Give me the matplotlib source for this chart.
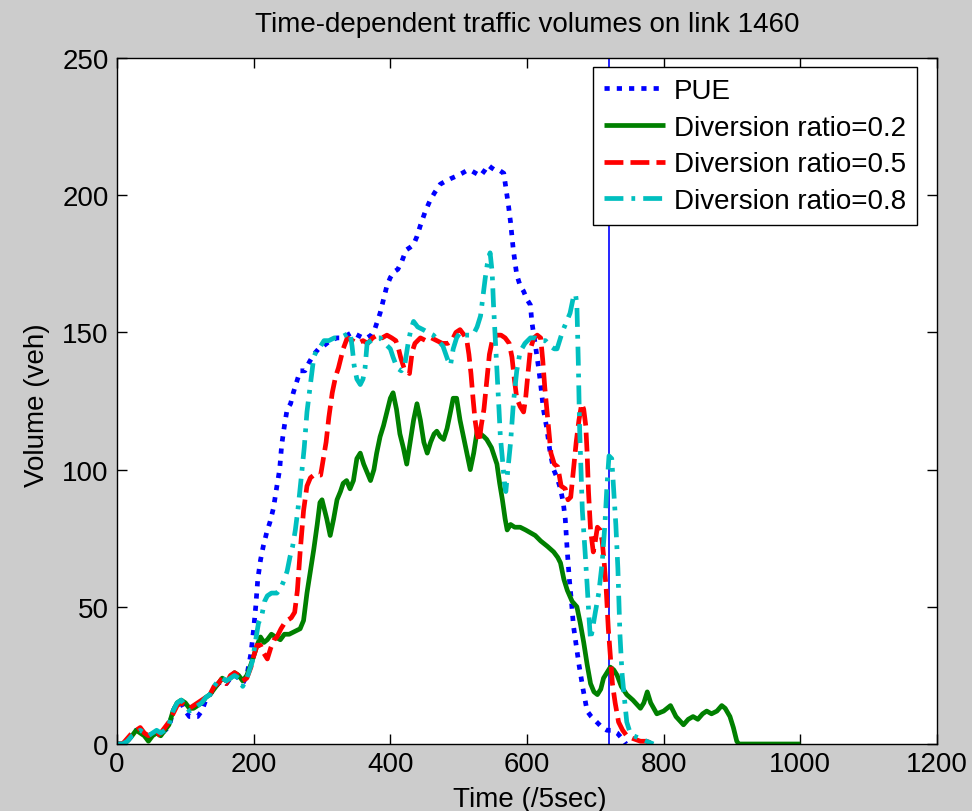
import matplotlib
matplotlib.use('Agg')
import matplotlib.pyplot as plt

# ---------------- data ----------------
pue_points = [(0,0),(8,0),(15,1),(22,3),(28,5),(34,5),(40,3),(46,2),(52,4),(58,4),(64,3),(70,5),(76,6),(82,12),(88,15),(94,15),(100,12),(106,10),(112,10),(118,10),(124,12),(130,16),(136,18),(142,20),(148,22),(154,23),(160,22),(166,24),(172,25),(178,24),(184,22),(190,25),(196,33),(200,42),(203,50),(206,60),(210,67),(214,72),(219,77),(224,81),(229,86),(234,94),(238,100),(241,109),(245,116),(249,122),(254,124),(258,128),(263,132),(268,136),(275,136),(281,139),(288,142),(295,144),(302,145),(312,147),(322,148),(330,148),(337,149),(344,150),(352,149),(360,148),(366,148),(372,149),(377,151),(381,154),(385,157),(390,162),(395,167),(400,170),(405,172),(411,173),(417,176),(423,180),(429,181),(434,182),(439,185),(444,189),(451,194),(458,198),(465,201),(473,204),(480,205),(488,206),(497,207),(505,208),(512,209),(518,209),(525,208),(532,207),(538,209),(543,211),(548,210),(554,209),(560,209),(566,208),(570,201),(573,196),(576,190),(580,180),(585,171),(590,167),(595,165),(600,162),(605,160),(607,154),(610,149),(613,144),(617,137),(620,131),(624,122),(629,115),(634,106),(639,100),(644,97),(649,93),(653,88),(656,82),(659,70),(662,60),(665,52),(668,43),(672,36),(676,29),(682,20),(688,12),(694,10),(702,8),(710,6),(717,5),(725,5),(732,4),(739,2),(745,0)]

ratio02_points = [(0,0),(8,0),(15,1),(22,3),(28,5),(34,4),(40,3),(46,1),(52,3),(58,4),(64,3),(70,5),(76,7),(82,12),(88,15),(94,16),(100,15),(106,13),(112,13),(118,14),(124,15),(130,17),(136,18),(142,20),(148,22),(154,24),(160,23),(166,24),(172,26),(178,25),(184,23),(190,25),(196,29),(200,32),(205,36),(210,39),(215,37),(220,38),(226,40),(232,39),(239,38),(245,40),(252,40),(260,41),(268,42),(273,45),(278,55),(283,63),(288,71),(293,80),(297,88),(300,89),(303,86),(307,82),(312,76),(317,82),(322,89),(327,92),(331,95),(336,96),(341,93),(346,96),(351,104),(356,106),(361,102),(366,99),(371,96),(376,100),(380,106),(385,112),(390,116),(395,121),(400,126),(404,128),(409,122),(414,113),(419,108),(424,102),(429,110),(434,118),(439,124),(444,118),(449,110),(454,106),(459,110),(464,113),(468,114),(473,112),(478,111),(483,115),(488,121),(492,126),(497,126),(502,118),(507,112),(512,106),(517,100),(522,106),(527,114),(532,113),(537,112),(541,111),(548,108),(556,102),(560,95),(564,89),(568,82),(571,78),(576,80),(582,79),(590,79),(598,78),(605,77),(612,76),(620,74),(630,72),(639,70),(645,68),(649,66),(654,60),(659,56),(666,52),(673,50),(678,44),(683,37),(688,29),(693,22),(698,19),(703,18),(708,20),(712,24),(717,26),(722,28),(727,27),(732,25),(738,21),(746,18),(755,16),(766,13),(771,15),(776,19),(781,15),(790,11),(800,12),(810,14),(818,10),(829,7),(836,9),(843,10),(850,9),(857,11),(863,12),(870,11),(878,12),(885,14),(890,13),(897,10),(902,6),(907,1),(910,0),(1000,0)]

ratio05_points = [(0,0),(8,0),(15,2),(22,4),(28,5),(34,6),(40,4),(46,3),(52,4),(58,3),(64,4),(70,6),(76,8),(82,11),(88,14),(94,15),(100,14),(106,13),(112,14),(118,15),(124,16),(130,17),(136,18),(142,21),(148,22),(154,24),(160,22),(166,25),(172,26),(178,25),(184,23),(190,24),(196,28),(200,32),(205,36),(210,36),(215,33),(220,31),(225,35),(230,38),(234,39),(240,42),(245,44),(249,45),(255,46),(260,48),(264,56),(268,70),(273,85),(278,94),(283,97),(288,98),(293,98),(298,98),(302,104),(306,110),(310,119),(315,128),(320,134),(324,137),(331,144),(337,148),(345,147),(352,146),(360,147),(367,146),(374,148),(381,149),(388,148),(395,149),(402,148),(408,147),(412,144),(415,141),(420,137),(424,136),(428,135),(432,143),(436,146),(444,148),(452,147),(460,148),(468,147),(476,146),(484,146),(490,147),(496,150),(502,151),(508,149),(512,147),(515,142),(518,135),(521,126),(524,118),(527,113),(530,110),(533,116),(537,122),(541,132),(545,142),(550,148),(556,149),(562,149),(568,148),(574,146),(578,141),(581,134),(585,126),(590,123),(595,121),(598,126),(601,134),(605,144),(610,148),(615,149),(620,148),(623,140),(626,130),(629,122),(632,114),(635,106),(640,102),(645,101),(650,94),(656,93),(660,89),(664,90),(668,100),(672,110),(676,118),(680,124),(683,122),(686,116),(688,106),(690,92),(693,78),(697,70),(700,74),(703,79),(707,78),(710,74),(713,66),(716,56),(719,42),(722,32),(725,22),(729,15),(734,8),(740,5),(746,3),(755,2),(766,1),(775,1),(785,0)]

ratio08_points = [(0,0),(8,0),(15,1),(22,3),(28,4),(34,5),(40,4),(46,3),(52,4),(58,5),(64,4),(70,5),(76,7),(82,12),(88,15),(94,16),(100,14),(106,12),(112,13),(118,14),(124,15),(130,17),(136,18),(142,21),(148,23),(154,24),(160,23),(166,24),(172,25),(178,24),(184,21),(190,24),(198,30),(203,38),(207,44),(212,47),(216,52),(220,54),(226,55),(234,55),(240,57),(245,60),(249,63),(253,68),(257,72),(261,78),(265,86),(270,98),(274,108),(278,121),(283,131),(288,141),(293,144),(298,145),(303,147),(310,147),(318,148),(326,148),(334,149),(341,150),(344,145),(347,138),(351,133),(356,131),(360,133),(363,137),(366,146),(372,147),(379,148),(385,148),(392,146),(400,144),(404,141),(410,137),(416,136),(421,138),(426,146),(430,151),(434,154),(440,152),(448,151),(455,150),(463,149),(470,147),(477,145),(484,140),(488,138),(492,144),(497,148),(502,150),(507,149),(514,149),(521,149),(527,152),(532,156),(536,164),(539,170),(542,175),(546,179),(549,172),(551,160),(554,146),(556,136),(559,122),(561,112),(564,104),(567,95),(569,92),(572,100),(576,110),(580,124),(585,136),(590,143),(597,146),(605,148),(612,148),(620,147),(627,147),(634,145),(640,144),(644,144),(649,148),(653,151),(658,154),(663,157),(668,163),(671,164),(673,160),(675,140),(677,115),(679,100),(681,85),(685,70),(688,58),(691,45),(693,38),(696,42),(700,48),(705,55),(710,66),(714,80),(717,94),(720,105),(724,104),(727,92),(730,80),(733,64),(736,40),(739,26),(742,18),(746,8),(751,4),(756,3),(765,2),(775,1),(785,0)]

series_labels = ['PUE', 'Diversion ratio=0.2', 'Diversion ratio=0.5', 'Diversion ratio=0.8']
marker_time = 720
x_ticks = [0, 200, 400, 600, 800, 1000, 1200]
y_ticks = [0, 50, 100, 150, 200, 250]
title_text = 'Time-dependent traffic volumes on link 1460'
x_label = 'Time (/5sec)'
y_label = 'Volume (veh)'

# ---------------- figure ----------------
plt.rcParams['font.family'] = ['Liberation Sans', 'DejaVu Sans']

W, H = 972, 812
fig = plt.figure(figsize=(W / 100, H / 100), dpi=100, facecolor='#cccccc')
ax = fig.add_axes([117 / W, (H - 745) / H, 820 / W, 686 / H])
ax.set_facecolor('white')

lw = 3.4
styles = [
    dict(color='#0000ff', linestyle=(0, (1.1, 1.5))),
    dict(color='#008000', linestyle='-'),
    dict(color='#ff0000', linestyle=(0, (4.0, 1.5))),
    dict(color='#00bfbf', linestyle=(0, (4.0, 1.7, 0.8, 1.7))),
]
all_points = [pue_points, ratio02_points, ratio05_points, ratio08_points]
for pts, st, lab in zip(all_points, styles, series_labels):
    t = [p[0] for p in pts]
    v = [p[1] for p in pts]
    ax.plot(t, v, lw=lw, label=lab, solid_capstyle='butt', **st)

ax.axvline(marker_time, color='#0000ff', lw=1.2, zorder=1)

ax.set_xlim(0, 1200)
ax.set_ylim(0, 250)
ax.set_xticks(x_ticks)
ax.set_yticks(y_ticks)
ax.tick_params(direction='in', length=7, width=1, top=True, right=True,
               labelsize=20, colors='black')
ax.tick_params(axis='x', pad=5)
ax.tick_params(axis='y', pad=6)
for s in ax.spines.values():
    s.set_linewidth(1)
    s.set_color('black')

leg = ax.legend(loc='upper right', bbox_to_anchor=((917 - 117) / 820, (745 - 68) / 686),
                fontsize=20, frameon=True, fancybox=False, framealpha=1,
                edgecolor='black', borderpad=0.4, labelspacing=0.38,
                handlelength=2.2, handletextpad=0.3, borderaxespad=0)
leg.get_frame().set_linewidth(1)
leg.set_zorder(10)

fig.text(527 / W, 1 - 25 / H, title_text, ha='center', va='center', fontsize=20)
fig.text(530 / W, (H - 800) / H, x_label, ha='center', va='center', fontsize=20)
fig.text(37 / W, (H - 405) / H, y_label, ha='center', va='center', fontsize=20, rotation=90)

fig.savefig('out.png', dpi=100, facecolor=fig.get_facecolor())
